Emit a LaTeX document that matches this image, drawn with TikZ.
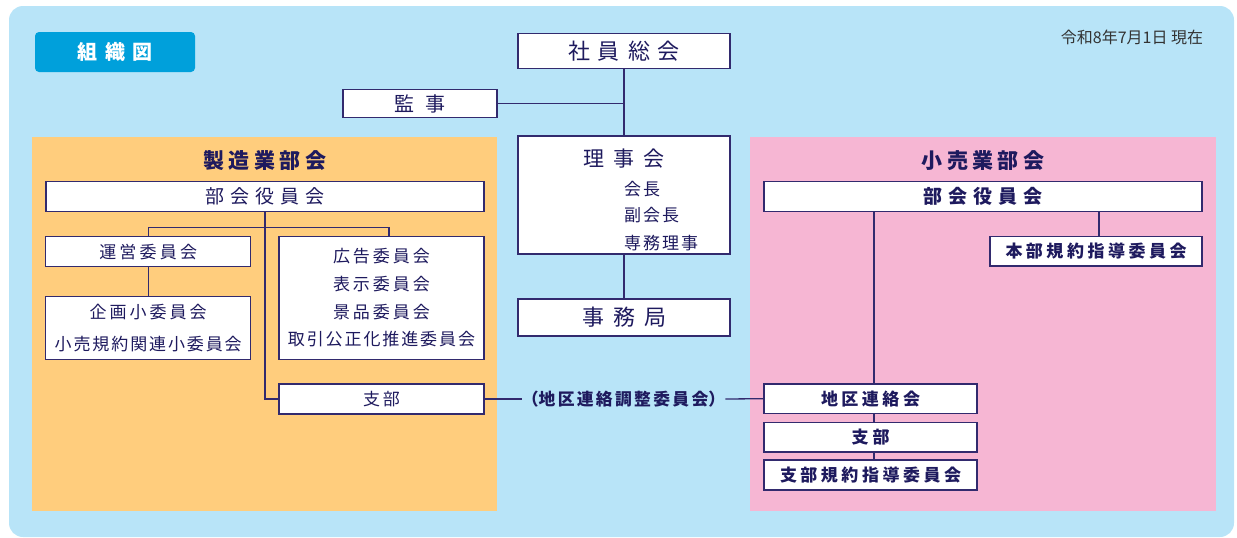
\documentclass[tikz,border=0pt]{standalone}
\usepackage{fontspec}
\newfontfamily\jp{Noto Sans CJK JP}
\definecolor{bgblue}{RGB}{184,228,248}
\definecolor{titleblue}{RGB}{0,160,219}
\definecolor{orangec}{RGB}{255,205,125}
\definecolor{pinkc}{RGB}{246,182,211}
\definecolor{navy}{RGB}{30,26,94}
\definecolor{linec}{RGB}{50,42,110}
\definecolor{dategray}{RGB}{51,51,51}
\makeatletter
\newcommand\lsp[2]{\let\lsp@sep\relax\@tfor\lsp@c:=#2\do{\lsp@sep\lsp@c\def\lsp@sep{\hspace{#1}}}}
\makeatother
\tikzset{
  box/.style={draw=linec, fill=white, line width=1.4pt, inner sep=0pt, text=navy, font=\jp\fontsize{17}{20}\selectfont},
  conn/.style={draw=linec, line width=1.3pt},
  headtxt/.style={text=navy, inner sep=0pt, font=\jp\bfseries\fontsize{21}{24}\selectfont},
  smalltxt/.style={text=navy, inner sep=0pt, anchor=west, font=\jp\fontsize{17}{20}\selectfont},
  boldbox/.style={box, font=\jp\bfseries\fontsize{17}{20}\selectfont}
}
\begin{document}
\begin{tikzpicture}[x=1pt,y=-1pt]
\useasboundingbox (0,0) rectangle (1237,538);
\fill[bgblue, rounded corners=14pt] (9,6) rectangle (1234,537);
% title
\node[fill=titleblue, rounded corners=4pt, minimum width=160pt, minimum height=40pt, inner sep=0pt, text=white, font=\jp\bfseries\fontsize{20}{22}\selectfont] (title) at (115,52) {\lsp{7.5pt}{組織図}};
\node[text=dategray, inner sep=0pt, font=\jp\fontsize{16}{18}\selectfont] (date) at (1132,37) {令和8年7月1日 現在};
% central column
\node[box, minimum width=212pt, minimum height=35pt, font=\jp\fontsize{22}{24}\selectfont] (shain) at (624,51) {\lsp{8pt}{社員総会}};
\node[box, minimum width=154pt, minimum height=28.5pt, font=\jp\fontsize{20}{22}\selectfont] (kanji) at (420,103.5) {\lsp{11pt}{監事}};
\node[box, minimum width=212pt, minimum height=118pt] (riji) at (624,195) {};
\node[text=navy, inner sep=0pt, font=\jp\fontsize{21}{24}\selectfont] (rijititle) at (624,159) {\lsp{9pt}{理事会}};
\node[smalltxt] (kaicho) at (624,189) {\lsp{2pt}{会長}};
\node[smalltxt] (fuku) at (624,215) {\lsp{2pt}{副会長}};
\node[smalltxt] (senmu) at (624,243) {\lsp{2pt}{専務理事}};
\node[box, minimum width=212pt, minimum height=37pt, font=\jp\fontsize{22}{24}\selectfont] (jimu) at (624,317.5) {\lsp{9pt}{事務局}};
\draw[conn] (shain.south) -- (riji.north);
\draw[conn] (kanji.east) -- (kanji.east -| shain.south);
\draw[conn] (riji.south) -- (jimu.north);
% manufacturing
\fill[orangec] (32,137) rectangle (497,511);
\node[headtxt] (mfgtitle) at (265,161) {\lsp{4.5pt}{製造業部会}};
\node[box, minimum width=438pt, minimum height=30pt, font=\jp\fontsize{19}{22}\selectfont] (mfgboard) at (265,196.7) {\lsp{6pt}{部会役員会}};
\node[box, minimum width=205pt, minimum height=30pt] (unei) at (148.2,251.7) {\lsp{3.2pt}{運営委員会}};
\node[box, minimum width=205pt, minimum height=123pt, align=center, font=\jp\fontsize{17}{27.8}\selectfont] (koukoku) at (381.5,297.7) {\lsp{3pt}{広告委員会}\\\lsp{3pt}{表示委員会}\\\lsp{3pt}{景品委員会}\\\lsp{1.9pt}{取引公正化推進委員会}};
\node[box, minimum width=205pt, minimum height=63pt, align=center, font=\jp\fontsize{17}{32}\selectfont] (kikaku) at (148.2,327.7) {\lsp{3pt}{企画小委員会}\\\lsp{1.9pt}{小売規約関連小委員会}};
\node[box, minimum width=205pt, minimum height=30pt] (mfgbranch) at (381.5,399) {\lsp{3pt}{支部}};
\coordinate (kb) at (389,227.3);
\draw[conn] (mfgboard.south) |- (mfgbranch.west);
\draw[conn] (unei.north) |- (kb) -- (kb |- koukoku.north);
\draw[conn] (unei.south) -- (kikaku.north);
% label
\node[text=navy, inner sep=0pt, font=\jp\bfseries\fontsize{16.8}{20}\selectfont] (chiku) at (623.5,399) {（\lsp{2.3pt}{地区連絡調整委員会}）};
% retail
\fill[pinkc] (750,137) rectangle (1216,511);
\node[headtxt] (rettitle) at (983,161) {\lsp{4.5pt}{小売業部会}};
\node[boldbox, minimum width=438pt, minimum height=30pt, font=\jp\bfseries\fontsize{19}{22}\selectfont] (retboard) at (983,196.7) {\lsp{6pt}{部会役員会}};
\node[boldbox, minimum width=212pt, minimum height=29.5pt] (honbu) at (1096,251.4) {\lsp{3.5pt}{本部規約指導委員会}};
\node[boldbox, minimum width=213pt, minimum height=29.3pt] (chikuren) at (870.5,398.7) {\lsp{3.5pt}{地区連絡会}};
\node[boldbox, minimum width=213pt, minimum height=29.7pt] (retbranch) at (870.5,437.2) {\lsp{4pt}{支部}};
\node[boldbox, minimum width=213pt, minimum height=30pt] (kitei) at (870.5,475) {\lsp{3.5pt}{支部規約指導委員会}};
\draw[conn] ([xshift=3pt]honbu.north) -- ([xshift=3pt]honbu.north |- retboard.south);
\draw[conn] ([xshift=3.5pt]chikuren.north) -- ([xshift=3.5pt]chikuren.north |- retboard.south);
\draw[conn] ([xshift=3.5pt]chikuren.south) -- ([xshift=3.5pt]retbranch.north);
\draw[conn] ([xshift=3.5pt]retbranch.south) -- ([xshift=3.5pt]kitei.north);
\draw[conn] (mfgbranch.east) -- (chiku.west);
\draw[conn] (chiku.east) -- (chikuren.west);
\end{tikzpicture}
\end{document}
